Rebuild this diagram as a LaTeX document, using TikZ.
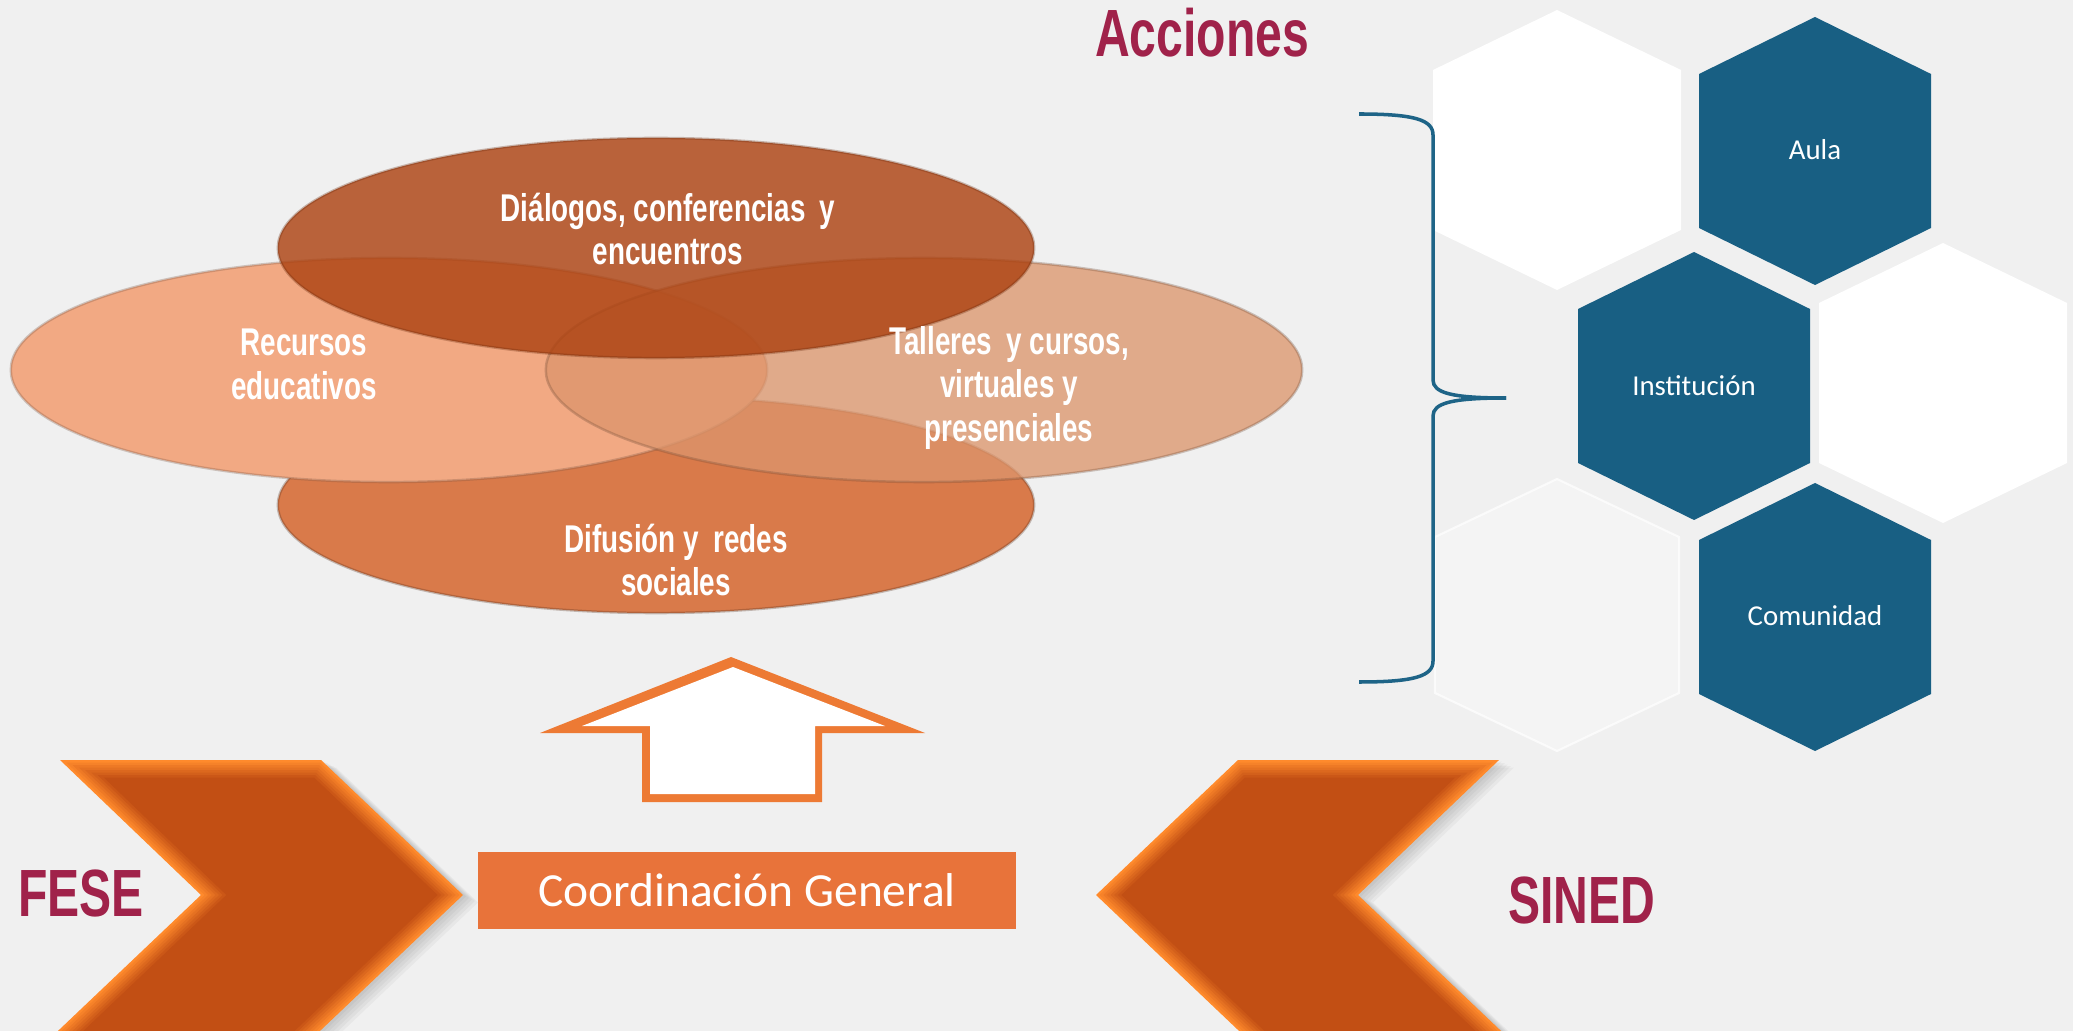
\documentclass[tikz,border=0pt]{standalone}
\usepackage{fontspec}
\setmainfont{Carlito}
\newfontfamily\narrowbf[FakeStretch=0.72]{Liberation Sans Bold}
\usetikzlibrary{shapes.geometric}
\definecolor{bgc}{HTML}{F0F0F0}
\definecolor{maroon}{HTML}{A0224A}
\definecolor{hexblue}{HTML}{185F83}
\definecolor{bracec}{HTML}{1E6487}
\definecolor{botc}{HTML}{D97A4A}
\definecolor{leftc}{HTML}{F2A983}
\definecolor{rightc}{RGB}{220,149,108}
\definecolor{topc}{RGB}{173,67,18}
\definecolor{chevout}{HTML}{FF8A2C}
\definecolor{chevin}{HTML}{C24F14}
\definecolor{boxc}{HTML}{E8733A}
\definecolor{arrowc}{HTML}{ED7A34}
\newcommand\hexat[5]{% cx cy halfwidth radius halfside
  (#1,#2) ++(0,-#4) -- ++(#3,#4-#5) -- ++(0,2*#5) -- ++(-#3,#4-#5) -- ++(-#3,-#4+#5) -- ++(0,-2*#5) -- cycle}
\begin{document}
\begin{tikzpicture}[x=0.01cm,y=-0.01cm,
  ell/.style={ellipse, inner sep=0pt, minimum width=7.56cm, line width=0.7pt, draw opacity=0.3},
  etext/.style={text=white, align=center, font=\narrowbf\fontsize{11}{12.5}\selectfont, inner sep=0pt},
  bigtitle/.style={text=maroon, font=\narrowbf\fontsize{19}{20}\selectfont, inner sep=0pt},
  hextext/.style={text=white, font=\fontsize{8.2}{10}\selectfont, inner sep=0pt},
  brace/.style={draw=bracec, line width=1pt}]
\fill[bgc] (0,0) rectangle (2073,1031);
\useasboundingbox (0,0) rectangle (2073,1031);
\clip (0,0) rectangle (2073,1031);

% ---- ellipses ----
\node[ell, fill=botc, draw=black!60!botc, minimum height=2.16cm] (difusion) at (656,505) {};
\node[ell, fill=leftc, draw=black!50!leftc, minimum height=2.24cm] (recursos) at (389,370) {};
\node[ell, fill=rightc, fill opacity=0.77, draw=black!50!rightc, minimum height=2.24cm] (talleres) at (924,370) {};
\node[ell, fill=topc, fill opacity=0.82, draw=black!40!topc, minimum height=2.2cm] (dialogos) at (656,248) {};

\node[etext] (tdialogos) at (668,229) {Diálogos, conferencias\, y\\encuentros};
\node[etext] (trecursos) at (304,364) {Recursos\\educativos};
\node[etext] (ttalleres) at (1009,388) {Talleres\, y cursos,\\virtuales y\\presenciales};
\node[etext] (tdifusion) at (676,560) {Difusión y\, redes\\sociales};

% ---- chevron shadows ----
\foreach \s in {3,6,9,12,15}{
  \begin{scope}[shift={(\s,0.5*\s)}]
  \fill[black, opacity=0.035] (60,760) -- (321,760) -- (463,895) -- (289.4,1060) -- (27.4,1060) -- (201,895) -- cycle;
  \fill[black, opacity=0.035] (1499,760) -- (1238,760) -- (1096,895) -- (1269.6,1060) -- (1531.6,1060) -- (1358,895) -- cycle;
  \end{scope}}
% ---- chevrons with bevel ----
\foreach \k in {0,...,7}{
  \pgfmathsetmacro\d{2.5*\k}
  \pgfmathsetmacro\p{100*\k/7}
  \fill[chevin!\p!chevout] ({60+2.502*\d},{760+\d}) -- ({321-0.398*\d},{760+\d}) -- ({463-1.45*\d},895)
     -- ({289.4-1.45*\d},1060) -- ({27.4+1.45*\d},1060) -- ({201+1.45*\d},895) -- cycle;
  \fill[chevin!\p!chevout] ({1499-2.502*\d},{760+\d}) -- ({1238+0.398*\d},{760+\d}) -- ({1096+1.45*\d},895)
     -- ({1269.6+1.45*\d},1060) -- ({1531.6-1.45*\d},1060) -- ({1358-1.45*\d},895) -- cycle;
}

% ---- up arrow ----
\fill[arrowc] (731,657) -- (925,733) -- (822,733) -- (822,802) -- (642,802) -- (642,733) -- (540,733) -- cycle;
\fill[white] (733,667) -- (885,726) -- (815,726) -- (815,794) -- (650,794) -- (650,726) -- (582,726) -- cycle;

% ---- coordination box ----
\node[fill=boxc, minimum width=5.38cm, minimum height=0.77cm, inner sep=0pt,
      text=white, font=\fontsize{13.5}{15}\selectfont] (coord) at (747,890.5) {Coordinación General};

% ---- titles ----
\node[bigtitle] (fese) at (81,893) {FESE};
\node[bigtitle] (sined) at (1582,900) {SINED};
\node[bigtitle] (acciones) at (1202,33) {Acciones};

% ---- hexagons ----
\fill[white] \hexat{1557}{150}{124}{140}{80};
\fill[white] \hexat{1943}{383}{124}{140}{80};
\fill[white, opacity=0.3] \hexat{1557}{615}{122}{136}{78};
\draw[white, opacity=0.7, line width=0.6pt] \hexat{1557}{615}{122}{136}{78};

\fill[hexblue] \hexat{1815}{151}{116}{134}{77};
\fill[hexblue] \hexat{1694}{386}{116}{134}{77};
\fill[hexblue] \hexat{1815}{617}{116}{134}{77};
\node[hextext] (aula) at (1815,150) {Aula};
\node[hextext] (inst) at (1694,386) {Institución};
\node[hextext] (comu) at (1815,616) {Comunidad};

% ---- brace ----
\coordinate (bt) at (1359,114);
\coordinate (bb) at (1359,682);
\coordinate (bm) at (1506,398);
\draw[brace] (bt) .. controls (1415,114) and (1433,120) .. (1433,135) -- (1433,380) .. controls (1433,393) and (1452,398) .. (bm);
\draw[brace] (bm) .. controls (1452,398) and (1433,403) .. (1433,416) -- (1433,661) .. controls (1433,676) and (1415,682) .. (bb);
\end{tikzpicture}
\end{document}
